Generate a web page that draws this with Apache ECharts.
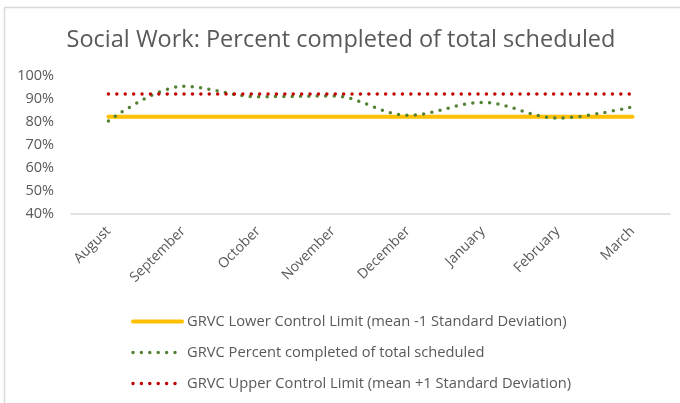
<!DOCTYPE html>
<html>
<head>
<meta charset="utf-8">
<script src="https://cdn.jsdelivr.net/npm/echarts@6/dist/echarts.min.js"></script>
<style>
  html, body { margin: 0; padding: 0; background: #fff; }
  #chart { width: 680px; height: 403px; }
</style>
</head>
<body>
<div id="chart"></div>
<script>
// months on the x axis
const months = ["August", "September", "October", "November", "December", "January", "February", "March"];
// percent values
const lowerLimit = [82.3, 82.3, 82.3, 82.3, 82.3, 82.3, 82.3, 82.3];
const percentCompleted = [80.4, 95.5, 91.0, 91.3, 82.9, 88.5, 81.7, 86.6];
const upperLimit = [92.2, 92.2, 92.2, 92.2, 92.2, 92.2, 92.2, 92.2];

const seriesNames = [
  "GRVC Lower Control Limit (mean -1 Standard Deviation)",
  "GRVC Percent completed of total scheduled",
  "GRVC Upper Control Limit (mean +1 Standard Deviation)"
];

const textColor = "#595959";
const fontFamily = "'Open Sans', 'Noto Sans', sans-serif";

let myChart = echarts.init(document.getElementById("chart"));

const options = {
  animation: false,
  color: ["#ffc000", "#548235", "#c00000"],
  title: {
    text: "Social Work: Percent completed of total scheduled",
    left: 336,
    top: 23,
    textAlign: "center",
    textStyle: {
      color: textColor,
      fontFamily: fontFamily,
      fontWeight: "normal",
      fontSize: 23.5
    }
  },
  graphic: [
    // chart frame (top + left border)
    { type: "line", silent: true, shape: { x1: 4, y1: 7.5, x2: 680, y2: 7.5 }, style: { stroke: "#d9d9d9", lineWidth: 1.5 } },
    { type: "line", silent: true, shape: { x1: 4.5, y1: 7, x2: 4.5, y2: 403 }, style: { stroke: "#d9d9d9", lineWidth: 1.5 } }
  ],
  legend: {
    orient: "vertical",
    left: 126,
    top: 309,
    itemWidth: 49,
    itemHeight: 18,
    itemGap: 16,
    data: [
      { name: seriesNames[0], lineStyle: { width: 4, type: "solid", cap: "round" } },
      { name: seriesNames[1], lineStyle: { width: 3.5, type: [0, 8.4], cap: "round" } },
      { name: seriesNames[2], lineStyle: { width: 3.5, type: [0, 8.4], cap: "round" } }
    ],
    itemStyle: { opacity: 0 },
    textStyle: {
      color: textColor,
      fontFamily: fontFamily,
      fontSize: 14.7
    }
  },
  grid: {
    left: 71,
    right: 10,
    top: 76,
    bottom: 189
  },
  xAxis: {
    type: "category",
    data: months,
    boundaryGap: true,
    axisLine: { lineStyle: { color: "#d9d9d9", width: 1.5 } },
    axisTick: { show: false },
    axisLabel: {
      rotate: 45,
      color: textColor,
      fontFamily: fontFamily,
      fontSize: 14,
      margin: 15,
      interval: 0
    }
  },
  yAxis: {
    type: "value",
    min: 40,
    max: 100,
    interval: 10,
    splitLine: { show: false },
    axisLine: { show: false },
    axisTick: { show: false },
    axisLabel: {
      color: textColor,
      fontFamily: fontFamily,
      fontSize: 14.5,
      margin: 17,
      formatter: function(v) {
        return v + "%";
      }
    }
  },
  series: [
    {
      name: seriesNames[0],
      type: "line",
      data: lowerLimit,
      symbol: "none",
      lineStyle: { width: 4, color: "#ffc000", cap: "round" }
    },
    {
      name: seriesNames[1],
      type: "line",
      data: percentCompleted,
      symbol: "none",
      smooth: 0.35,
      lineStyle: { width: 3.5, color: "#548235", type: [0, 8.4], cap: "round" }
    },
    {
      name: seriesNames[2],
      type: "line",
      data: upperLimit,
      symbol: "none",
      lineStyle: { width: 3.5, color: "#c00000", type: [0, 8.4], cap: "round" }
    }
  ]
};

myChart.setOption(options);
</script>
</body>
</html>
